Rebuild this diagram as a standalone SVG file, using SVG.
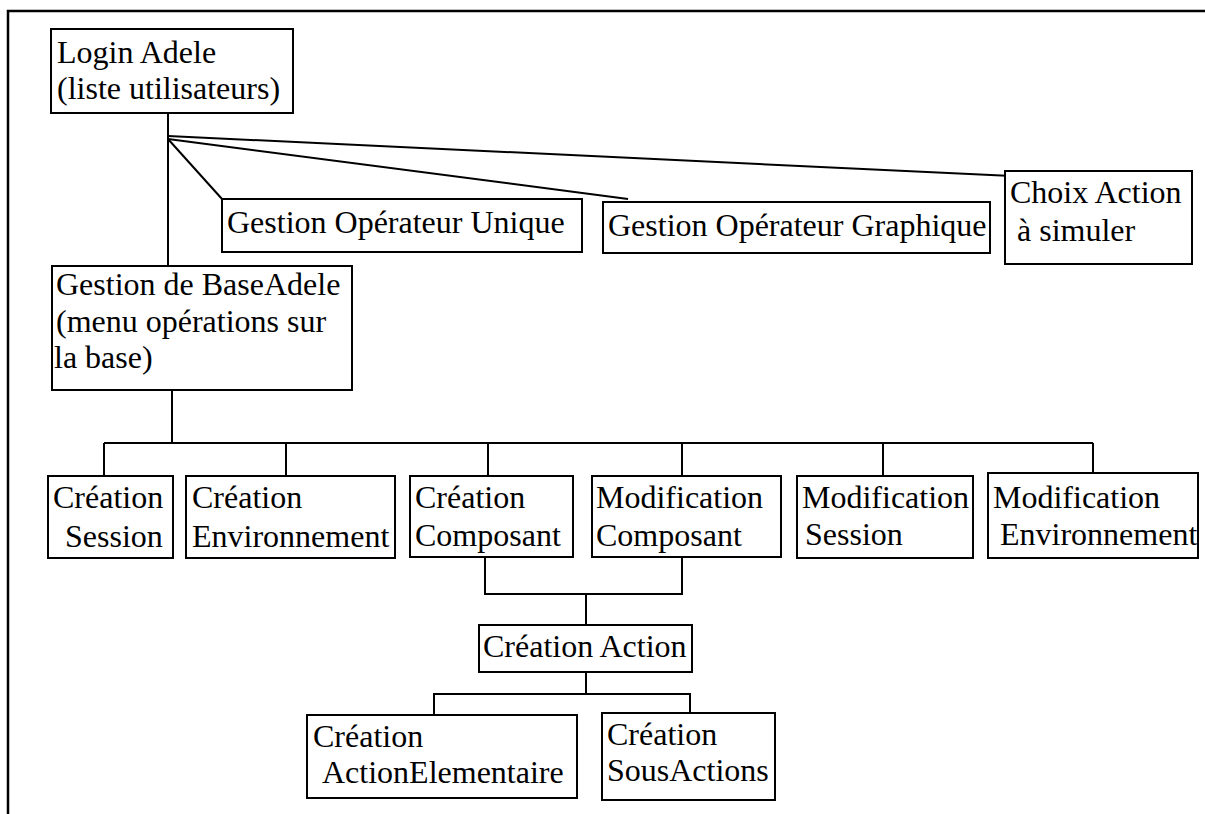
<svg xmlns="http://www.w3.org/2000/svg" width="1205" height="814" viewBox="0 0 1205 814">
<style>
rect.box{fill:#fff;stroke:#000;stroke-width:2}
text{font-family:"Liberation Serif","Times New Roman",serif;font-size:32px;fill:#000}
.conn{stroke:#000;stroke-width:2;fill:none}
.frame{stroke:#000;stroke-width:2.5;fill:none}
</style>
<rect width="1205" height="814" fill="#fff"/>
<path class="frame" d="M8,830 V11 H1210"/>
<g id="connectors">
<path class="conn" d="M168,113 V266"/>
<path class="conn" d="M168,139 L222,199"/>
<path class="conn" d="M168,139 L628,199"/>
<path class="conn" d="M168,136 L1012,176"/>
<path class="conn" d="M172,390 V443"/>
<path class="conn" d="M104,443 H1093"/>
<path class="conn" d="M104,443 V476 M286,443 V476 M488,443 V476 M682,443 V476 M883,443 V476 M1093,443 V473"/>
<path class="conn" d="M485,557 V594 H682 V557"/>
<path class="conn" d="M586,594 V625"/>
<path class="conn" d="M586,672 V694"/>
<path class="conn" d="M434,715 V694 H690 V713"/>
</g>
<g id="login"><rect class="box" x="51" y="29" width="242" height="84"/><text x="57" y="63">Login Adele</text><text x="57" y="99">(liste utilisateurs)</text></g>
<g id="gestion-unique"><rect class="box" x="222" y="199" width="360" height="53"/><text x="227" y="233">Gestion Opérateur Unique</text></g>
<g id="gestion-graphique"><rect class="box" x="603" y="202" width="387" height="51"/><text x="608" y="236">Gestion Opérateur Graphique</text></g>
<g id="choix-action"><rect class="box" x="1005" y="171" width="187" height="93"/><text x="1010" y="203">Choix Action</text><text x="1017" y="241">à simuler</text></g>
<g id="gestion-base"><rect class="box" x="52" y="266" width="300" height="124"/><text x="56" y="295">Gestion de BaseAdele</text><text x="56" y="332">(menu opérations sur</text><text x="54" y="368">la base)</text></g>
<g id="creation-session"><rect class="box" x="48" y="476" width="125" height="82"/><text x="53" y="508">Création</text><text x="65" y="547">Session</text></g>
<g id="creation-environnement"><rect class="box" x="186" y="476" width="209" height="82"/><text x="192" y="508">Création</text><text x="192" y="547">Environnement</text></g>
<g id="creation-composant"><rect class="box" x="410" y="476" width="163" height="81"/><text x="415" y="508">Création</text><text x="415" y="546">Composant</text></g>
<g id="modification-composant"><rect class="box" x="592" y="476" width="189" height="81"/><text x="596" y="508">Modification</text><text x="596" y="546">Composant</text></g>
<g id="modification-session"><rect class="box" x="797" y="476" width="176" height="82"/><text x="802" y="508">Modification</text><text x="805" y="545">Session</text></g>
<g id="modification-environnement"><rect class="box" x="988" y="473" width="210" height="85"/><text x="993" y="508">Modification</text><text x="1000" y="545">Environnement</text></g>
<g id="creation-action"><rect class="box" x="479" y="625" width="213" height="47"/><text x="483" y="657">Création Action</text></g>
<g id="creation-actionelementaire"><rect class="box" x="307" y="715" width="270" height="83"/><text x="313" y="747">Création</text><text x="322" y="783">ActionElementaire</text></g>
<g id="creation-sousactions"><rect class="box" x="602" y="713" width="173" height="87"/><text x="607" y="745">Création</text><text x="607" y="781">SousActions</text></g>
</svg>
